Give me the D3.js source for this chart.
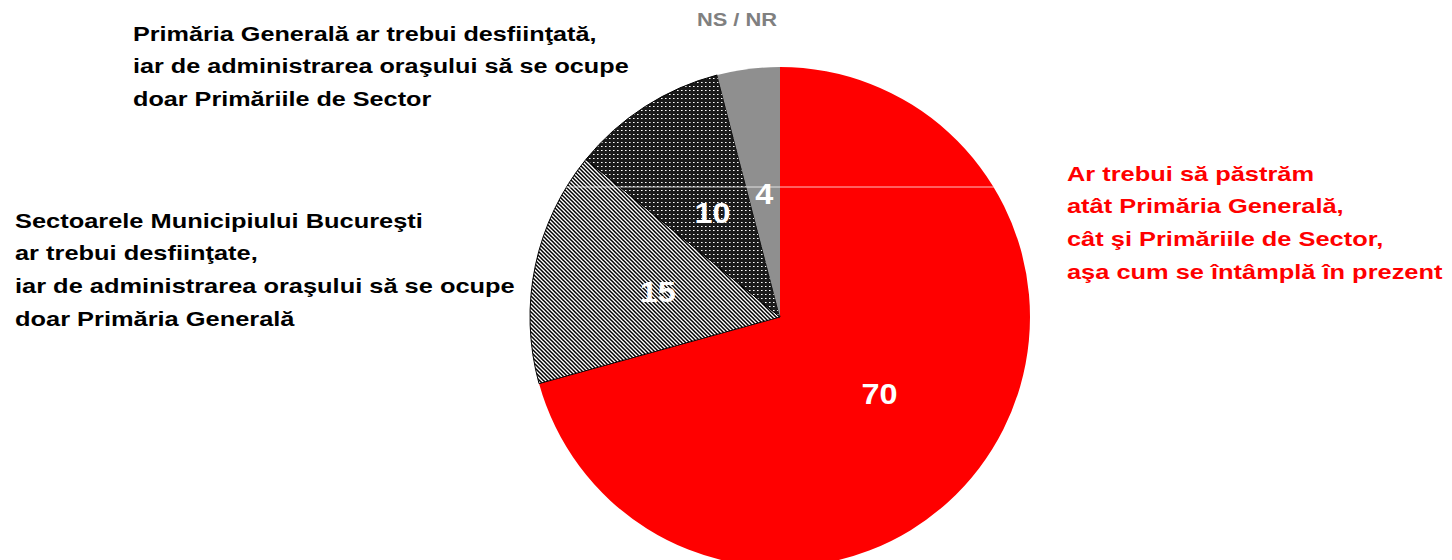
<!DOCTYPE html>
<html><head><meta charset="utf-8">
<script src="https://cdn.jsdelivr.net/npm/d3@7"></script>
<style>body{margin:0;background:#fff}svg{display:block}</style>
</head><body>
<svg id="c" width="1452" height="560"></svg>
<script>
const categories = [
  "Ar trebui să păstrăm atât Primăria Generală, cât şi Primăriile de Sector, aşa cum se întâmplă în prezent",
  "Sectoarele Municipiului Bucureşti ar trebui desfiinţate, iar de administrarea oraşului să se ocupe doar Primăria Generală",
  "Primăria Generală ar trebui desfiinţată, iar de administrarea oraşului să se ocupe doar Primăriile de Sector",
  "NS / NR"
];
const values = [70, 15, 10, 4];
const labelLines = [
  ["Ar trebui să păstrăm","atât Primăria Generală,","cât şi Primăriile de Sector,","aşa cum se întâmplă în prezent"],
  ["Sectoarele Municipiului Bucureşti","ar trebui desfiinţate,","iar de administrarea oraşului să se ocupe","doar Primăria Generală"],
  ["Primăria Generală ar trebui desfiinţată,","iar de administrarea oraşului să se ocupe","doar Primăriile de Sector"],
  ["NS / NR"]
];

const svg = d3.select("#c");
const defs = svg.append("defs");
const ps = defs.append("pattern").attr("id","stripes").attr("patternUnits","userSpaceOnUse").attr("width",4).attr("height",4);
ps.append("rect").attr("width",4).attr("height",4).attr("fill","#fff");
ps.append("path").attr("d","M-1,-1 L5,5 M-1,3 L1,5 M3,-1 L5,1").attr("stroke","#000").attr("stroke-width",1.5);
const pd = defs.append("pattern").attr("id","dots").attr("patternUnits","userSpaceOnUse").attr("width",4).attr("height",4);
pd.append("rect").attr("width",4).attr("height",4).attr("fill","#1a1a1a");
pd.append("rect").attr("x",1).attr("y",1).attr("width",2).attr("height",1).attr("fill","#999");
pd.append("rect").attr("x",1).attr("y",1).attr("width",1).attr("height",1).attr("fill","#fff");

const fills = ["#ff0000","url(#stripes)","url(#dots)","#8f8f8f"];
const strokes = ["none","#000","#000","none"];

const cx = 780, cy = 317, R = 250;
const pie = d3.pie().sort(null).value(d=>d);
const arc = d3.arc().innerRadius(0).outerRadius(R);
const g = svg.append("g").attr("transform",`translate(${cx},${cy})`);
const arcs = pie(values);
g.selectAll("path.s").data(arcs).join("path").attr("class","s")
  .attr("d",arc).attr("fill",(d,i)=>fills[i]).attr("stroke",(d,i)=>strokes[i]).attr("stroke-width",1);

defs.append("clipPath").attr("id","pc").append("circle").attr("cx",0).attr("cy",0).attr("r",R);
g.append("line").attr("x1",-R).attr("x2",R).attr("y1",-130).attr("y2",-130)
  .attr("stroke","#fff").attr("stroke-opacity",0.75).attr("stroke-width",1).attr("clip-path","url(#pc)");

const font = "Liberation Sans, Arial, sans-serif";
g.selectAll("text.v").data(arcs).join("text").attr("class","v")
  .attr("transform",d=>{const c=arc.centroid(d);return `translate(${c[0]},${c[1]}) scale(1.08,1)`;})
  .attr("text-anchor","middle").attr("dy","0.36em")
  .attr("font-family",font).attr("font-weight","bold")
  .attr("font-size",30).attr("fill","#fff").text(d=>d.data);

const lab = [
  {x:1067, y:173, color:"#ff0000", size:21, lh:32.7, sx:1.21},
  {x:15, y:220, color:"#000", size:21, lh:32.7, sx:1.21},
  {x:133, y:33, color:"#000", size:21, lh:32.7, sx:1.2},
  {x:737, y:19, color:"#808080", size:19, lh:20, sx:1.15, anchor:"middle"}
];
labelLines.forEach((lines,i)=>{
  const L = lab[i];
  const t = svg.append("text").attr("transform",`translate(${L.x},0) scale(${L.sx},1)`)
    .attr("font-family",font).attr("font-weight","bold")
    .attr("font-size",L.size).attr("fill",L.color).attr("text-anchor",L.anchor||"start");
  lines.forEach((s,j)=>t.append("tspan").attr("x",0).attr("y",L.y+j*L.lh).attr("dy","0.36em").text(s));
});
</script>
</body></html>
